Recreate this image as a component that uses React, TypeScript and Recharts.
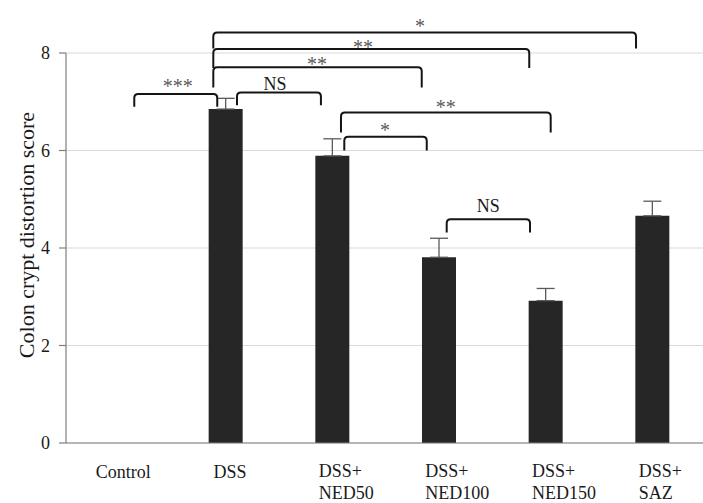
import React from "react";
import {
  BarChart,
  Bar,
  XAxis,
  YAxis,
  CartesianGrid,
  ErrorBar,
  ReferenceLine,
  ReferenceDot,
} from "recharts";

// ---- data ----
const categories = ["Control", "DSS", "DSS+NED50", "DSS+NED100", "DSS+NED150", "DSS+SAZ"];
const meanScores = [0, 6.85, 5.89, 3.81, 2.92, 4.66];
const errorScores = [0, 0.22, 0.35, 0.39, 0.25, 0.3];
const yTicks = [0, 2, 4, 6, 8];
const yTitle = "Colon crypt distortion score";

// significance brackets: from/to in category index units, top/foot in score units,
// label centre (lx, ly) in the same units
const bracketFrom = [0.14, 1.103, 0.881, 0.881, 0.881, 2.109, 2.078, 3.069];
const bracketTo = [0.918, 1.89, 2.835, 3.843, 4.844, 2.882, 4.044, 3.85];
const bracketTop = [7.16, 7.19, 7.71, 8.08, 8.42, 6.28, 6.78, 4.59];
const bracketFoot = [6.9, 6.93, 7.29, 7.69, 8.09, 6.0, 6.37, 4.32];
const bracketText = ["***", "NS", "**", "**", "*", "*", "**", "NS"];
const bracketLabelX = [0.547, 1.46, 1.853, 2.284, 2.819, 2.491, 3.06, 3.459];
const bracketLabelY = [7.38, 7.37, 7.84, 8.19, 8.62, 6.49, 6.95, 4.86];

const data = categories.map((name, i) => ({
  name,
  pos: i,
  score: meanScores[i],
  err: errorScores[i] > 0 ? [0, errorScores[i]] : null,
}));

const FONT = '"Liberation Serif", "Times New Roman", serif';

const XTick = (props: any) => {
  const { x, y, payload } = props;
  const parts = String(payload.value).split(/(?<=\+)/);
  if (parts.length === 1) {
    return (
      <text x={x + 4} y={y + 27} textAnchor="middle" fontFamily={FONT} fontSize={18} fill="#1a1a1a">
        {parts[0]}
      </text>
    );
  }
  return (
    <g>
      <text x={x - 14} y={y + 25.5} textAnchor="start" fontFamily={FONT} fontSize={18} fill="#1a1a1a">
        {parts[0]}
      </text>
      <text x={x - 14} y={y + 47.5} textAnchor="start" fontFamily={FONT} fontSize={18} fill="#1a1a1a">
        {parts[1]}
      </text>
    </g>
  );
};

const bracketShape = (props: any) => {
  const { x1, y1, x2, y2 } = props;
  const r = 4;
  const d = `M${x1},${y1} L${x1},${y2 + r} Q${x1},${y2} ${x1 + r},${y2} L${x2 - r},${y2} Q${x2},${y2} ${x2},${y2 + r} L${x2},${y1}`;
  return <path d={d} fill="none" stroke="#151515" strokeWidth={2} />;
};

const makeLabel = (text: string) => (props: any) => {
  const vb = props.viewBox || {};
  const cx = vb.x + (vb.width || 0) / 2;
  const cy = vb.y + (vb.height || 0) / 2;
  const isStar = text.indexOf("*") >= 0;
  return (
    <text
      x={cx}
      y={isStar ? cy + 10 : cy + 6}
      textAnchor="middle"
      fontFamily={FONT}
      fontSize={isStar ? 20 : 18}
      fill={isStar ? "#5a5a5a" : "#1a1a1a"}
    >
      {text}
    </text>
  );
};

const YTitle = (props: any) => {
  const vb = props.viewBox || { x: 0, y: 0, width: 0, height: 0 };
  const cx = vb.x + 26.5;
  const cy = vb.y + vb.height / 2 - 13;
  return (
    <text
      x={cx}
      y={cy}
      transform={`rotate(-90, ${cx}, ${cy})`}
      textAnchor="middle"
      dominantBaseline="central"
      fontFamily={FONT}
      fontSize={22}
      fill="#1a1a1a"
    >
      {yTitle}
    </text>
  );
};

export default function App() {
  return (
    <div
      style={{
        position: "fixed",
        left: 0,
        top: 0,
        width: 703,
        height: 503,
        overflow: "hidden",
        background: "#fff",
      }}
    >
      <BarChart
        width={706}
        height={503}
        data={data}
        margin={{ top: 53, right: 0, bottom: 0, left: 0 }}
        style={{ fontFamily: FONT }}
      >
        <CartesianGrid vertical={false} stroke="#d9d9d9" />
        <XAxis
          dataKey="name"
          interval={0}
          tickLine={false}
          axisLine={{ stroke: "#7f7f7f", strokeWidth: 1.2 }}
          height={60}
          tick={<XTick />}
        />
        <XAxis
          xAxisId="num"
          dataKey="pos"
          type="number"
          domain={[-0.5, 5.5]}
          allowDataOverflow
          hide
        />
        <YAxis
          domain={[0, 8]}
          ticks={yTicks}
          interval={0}
          width={66}
          tickSize={7}
          tickMargin={9}
          axisLine={{ stroke: "#7f7f7f", strokeWidth: 1.2 }}
          tickLine={{ stroke: "#7f7f7f", strokeWidth: 1.2 }}
          tick={{ fontSize: 18, fill: "#1a1a1a", fontFamily: FONT }}
          label={<YTitle />}
        />
        <Bar dataKey="score" fill="#262626" barSize={34} isAnimationActive={false}>
          <ErrorBar dataKey="err" direction="y" width={9} stroke="#5a5a5a" strokeWidth={1.3} />
        </Bar>
        {bracketFrom.map((from, i) => (
          <ReferenceLine
            key={`b${i}`}
            xAxisId="num"
            ifOverflow="visible"
            segment={[
              { x: from, y: bracketFoot[i] },
              { x: bracketTo[i], y: bracketTop[i] },
            ]}
            shape={bracketShape}
          />
        ))}
        {bracketText.map((t, i) => (
          <ReferenceDot
            key={`l${i}`}
            xAxisId="num"
            ifOverflow="visible"
            x={bracketLabelX[i]}
            y={bracketLabelY[i]}
            r={0}
            fill="none"
            stroke="none"
            label={makeLabel(t)}
          />
        ))}
      </BarChart>
    </div>
  );
}
